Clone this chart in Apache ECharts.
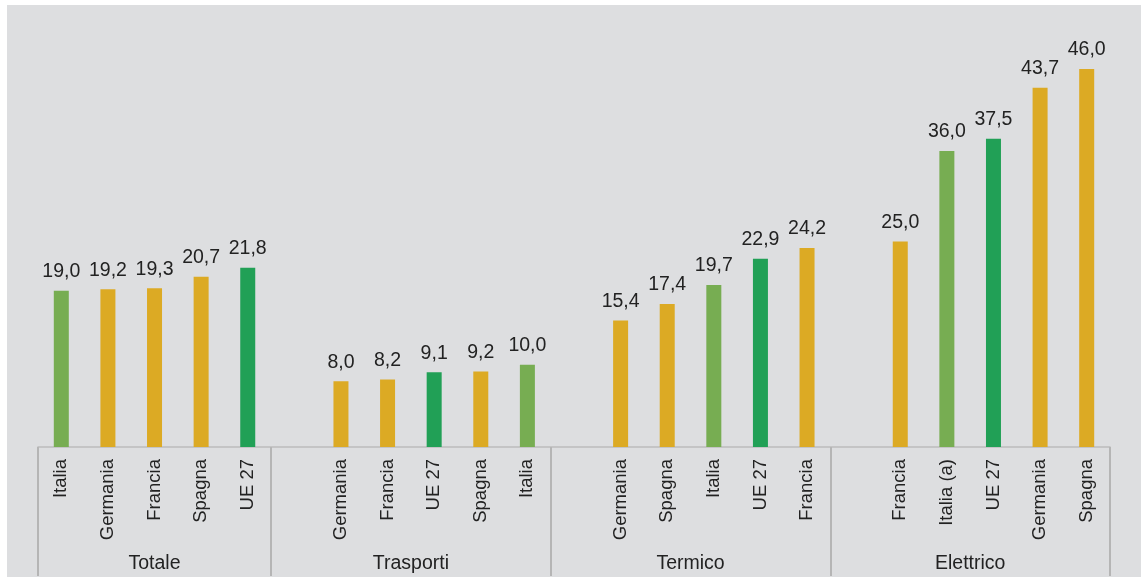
<!DOCTYPE html>
<html>
<head>
<meta charset="utf-8">
<script src="https://cdn.jsdelivr.net/npm/echarts@6/dist/echarts.min.js"></script>
<style>
html,body{margin:0;padding:0;background:#fff;}
#chart{width:1144px;height:580px;}
</style>
</head>
<body>
<div id="chart"></div>
<script>
// ---- data ----
const groups = ['Totale', 'Trasporti', 'Termico', 'Elettrico'];
const totaleCountries = ['Italia', 'Germania', 'Francia', 'Spagna', 'UE 27'];
const totaleValues = [19.0, 19.2, 19.3, 20.7, 21.8];
const trasportiCountries = ['Germania', 'Francia', 'UE 27', 'Spagna', 'Italia'];
const trasportiValues = [8.0, 8.2, 9.1, 9.2, 10.0];
const termicoCountries = ['Germania', 'Spagna', 'Italia', 'UE 27', 'Francia'];
const termicoValues = [15.4, 17.4, 19.7, 22.9, 24.2];
const elettricoCountries = ['Francia', 'Italia (a)', 'UE 27', 'Germania', 'Spagna'];
const elettricoValues = [25.0, 36.0, 37.5, 43.7, 46.0];

// ---- build slots (one empty slot between groups) ----
const groupCountries = [totaleCountries, trasportiCountries, termicoCountries, elettricoCountries];
const groupValues = [totaleValues, trasportiValues, termicoValues, elettricoValues];
const categories = [];
const values = [];
const groupStart = [];
const groupEnd = [];
groupCountries.forEach((cs, g) => {
  if (g > 0) { categories.push(''); values.push(null); }
  groupStart.push(g === 0 ? 0 : categories.length - 1);
  cs.forEach((c, i) => { categories.push(c); values.push(groupValues[g][i]); });
  groupEnd.push(categories.length);
});
const nSlots = categories.length;

function colorFor(name) {
  if (name.indexOf('Italia') === 0) return '#77ad52';
  if (name === 'UE 27') return '#21a056';
  return '#dcaa24';
}

// secondary axis: half-slot positions 0..2*nSlots
const halfCats = [];
for (let i = 0; i <= 2 * nSlots; i++) halfCats.push('');
const tickIdx = new Set();
const labelAt = {};
groups.forEach((gname, g) => {
  tickIdx.add(groupStart[g] * 2);
  tickIdx.add(groupEnd[g] * 2);
  labelAt[groupStart[g] + groupEnd[g]] = gname;
});
for (const k in labelAt) halfCats[k] = labelAt[k];

const chart = echarts.init(document.getElementById('chart'));
const font = '"Liberation Sans", Arial, sans-serif';
chart.setOption({
  backgroundColor: '#ffffff',
  animation: false,
  graphic: [{
    type: 'rect', z: -10, silent: true,
    shape: { x: 7, y: 5, width: 1134, height: 572 },
    style: { fill: '#dddee0' }
  }],
  grid: { left: 38, right: 34, top: 36, bottom: 133 },
  xAxis: [{
    type: 'category',
    data: categories,
    axisLine: { show: true, lineStyle: { color: '#bcbcbc', width: 1.5 } },
    axisTick: { show: false },
    axisLabel: {
      interval: 0, rotate: 90, margin: 12,
      fontSize: 18.5, color: '#222', fontFamily: font
    }
  }, {
    type: 'category',
    position: 'bottom',
    boundaryGap: false,
    data: halfCats,
    axisLine: { show: false },
    axisTick: {
      show: true, length: 129,
      interval: (idx) => tickIdx.has(idx),
      lineStyle: { color: '#b5b5b5', width: 2 }
    },
    axisLabel: {
      interval: (idx) => labelAt[idx] !== undefined,
      margin: 107, fontSize: 19.5, color: '#222', fontFamily: font
    }
  }],
  yAxis: {
    type: 'value', min: 0, max: 50,
    show: false,
    splitLine: { show: false }
  },
  series: [{
    type: 'bar',
    xAxisIndex: 0,
    barWidth: 15,
    data: values.map((v, i) => v === null ? null : {
      value: v,
      itemStyle: { color: colorFor(categories[i]) }
    }),
    label: {
      show: true, position: 'top', distance: 9,
      fontSize: 19.5, color: '#222', fontFamily: font,
      formatter: (p) => p.value.toFixed(1).replace('.', ',')
    }
  }]
});
</script>
</body>
</html>
